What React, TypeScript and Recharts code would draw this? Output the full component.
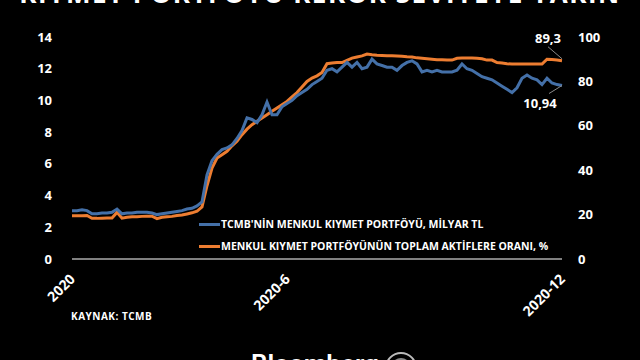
import React from 'react';
import { LineChart, Line, XAxis, YAxis } from 'recharts';

// TCMB securities portfolio (bn TL, left axis) and its share of total assets (%, right axis), 2020
const PORTFOLIO = [
  3.05, 3.05, 3.1, 3.05, 2.85, 2.85, 2.9, 2.9, 2.95, 3.15,
  2.85, 2.9, 2.9, 2.95, 2.95, 2.95, 2.9, 2.8, 2.85, 2.9,
  2.95, 3.0, 3.05, 3.15, 3.2, 3.35, 3.6, 5.3, 6.2, 6.6,
  6.9, 7.0, 7.2, 7.6, 8.1, 8.9, 8.8, 8.6, 9.1, 9.9,
  9.1, 9.1, 9.6, 9.8, 10.0, 10.3, 10.5, 10.7, 11.0, 11.2,
  11.4, 11.9, 12.0, 11.8, 12.1, 12.4, 12.1, 12.4, 12.0, 12.1,
  12.6, 12.3, 12.2, 12.1, 12.1, 11.9, 12.2, 12.4, 12.5, 12.3,
  11.8, 11.9, 11.8, 11.9, 11.8, 11.8, 11.8, 11.9, 12.3, 12.0,
  11.9, 11.7, 11.5, 11.4, 11.3, 11.1, 10.9, 10.7, 10.5, 10.8,
  11.4, 11.6, 11.4, 11.3, 11.0, 11.4, 11.1, 11.0, 10.94,
];

const SHARE = [
  19.5, 19.5, 19.5, 19.6, 18.3, 18.3, 18.4, 18.5, 18.5, 21.0,
  18.4, 18.8, 19.0, 19.0, 19.2, 19.3, 19.3, 18.2, 18.8, 19.0,
  19.2, 19.6, 19.8, 20.3, 20.8, 21.5, 23.5, 33, 41, 45.5,
  47, 48.5, 51, 53, 56, 58.5, 60.5, 62, 63.5, 65,
  66.5, 68, 69.5, 71, 73, 75, 77.5, 80, 81.5, 82.5,
  84, 88, 88.3, 88.5, 88.5, 89.5, 90.5, 91, 91.5, 92.3,
  92, 91.8, 91.7, 91.6, 91.5, 91.4, 91.3, 91.1, 91, 90.6,
  90.4, 90.2, 90.0, 89.8, 89.7, 89.6, 89.6, 90.4, 90.5, 90.5,
  90.5, 90.4, 90.2, 89.6, 89.6, 88.5, 88.3, 88.0, 87.8, 87.8,
  87.8, 87.8, 87.8, 87.8, 87.8, 90, 89.9, 89.6, 89.3,
];

const TICK_POS = [0, 43, 98];
const TICK_LABELS = ['2020', '2020-6', '2020-12'];
const LEFT_TICKS = [0, 2, 4, 6, 8, 10, 12, 14];
const RIGHT_TICKS = [0, 20, 40, 60, 80, 100];

const SERIES_NAMES = [
  "TCMB'NİN MENKUL KIYMET PORTFÖYÜ, MİLYAR TL",
  'MENKUL KIYMET PORTFÖYÜNÜN TOPLAM AKTİFLERE ORANI, %',
];

const BLUE = '#4470a8';
const ORANGE = '#ed7d31';
const FONT = '"Open Sans", "DejaVu Sans", sans-serif';

const data = PORTFOLIO.map((v, i) => ({ i, portfolio: v, share: SHARE[i] }));

const fmt = (v: number) => String(v).replace('.', ',');

const XTick = (props: any) => {
  const { x, y, payload } = props;
  const idx = TICK_POS.indexOf(payload.value);
  return (
    <text
      transform={`translate(${x + 4},${y + 13}) rotate(-45)`}
      textAnchor="end"
      fill="#fff"
      fontSize={14}
      fontWeight={700}
      fontFamily={FONT}
    >
      {idx >= 0 ? TICK_LABELS[idx] : ''}
    </text>
  );
};

const blueEnd = (props: any) => {
  const { x, y, index, value } = props;
  if (index !== PORTFOLIO.length - 1) return null;
  return (
    <g>
      <line x1={x} y1={y} x2={x - 13} y2={y + 8} stroke="#8a8a8a" strokeWidth={1} />
      <text x={x - 22} y={y + 22} textAnchor="middle" fill="#fff" fontSize={13} fontWeight={700} fontFamily={FONT}>
        {fmt(value)}
      </text>
    </g>
  );
};

const orangeEnd = (props: any) => {
  const { x, y, index, value } = props;
  if (index !== SHARE.length - 1) return null;
  return (
    <g>
      <line x1={x} y1={y - 2} x2={x - 14} y2={y - 14} stroke="#8a8a8a" strokeWidth={1} />
      <text x={x - 14} y={y - 18} textAnchor="middle" fill="#fff" fontSize={13} fontWeight={700} fontFamily={FONT}>
        {fmt(value)}
      </text>
    </g>
  );
};

export default function App() {
  return (
    <div
      style={{
        position: 'fixed',
        left: 0,
        top: 0,
        width: 640,
        height: 360,
        background: '#000',
        overflow: 'hidden',
        fontFamily: FONT,
      }}
    >
      {/* title, cut off at the top of the frame like the source image */}
      <div
        style={{
          position: 'absolute',
          top: -25,
          left: 0,
          width: 640,
          textAlign: 'center',
          color: '#fff',
          fontSize: 26,
          fontWeight: 700,
          letterSpacing: 1.5,
          whiteSpace: 'nowrap',
        }}
      >
        KIYMET PORTFÖYÜ REKOR SEVİYEYE YAKIN
      </div>

      <LineChart width={640} height={360} data={data} margin={{ top: 37, right: 0, bottom: 0, left: 0 }}>
        <XAxis
          dataKey="i"
          type="number"
          domain={[0, PORTFOLIO.length - 1]}
          ticks={TICK_POS}
          tick={<XTick />}
          tickLine={false}
          axisLine={{ stroke: '#808080', strokeWidth: 2 }}
          interval={0}
          height={101}
        />
        <YAxis
          yAxisId="l"
          domain={[0, 14]}
          ticks={LEFT_TICKS}
          interval={0}
          width={72}
          axisLine={false}
          tickLine={false}
          tickSize={0}
          tickMargin={20}
          tick={{ fill: '#fff', fontSize: 13, fontWeight: 700, fontFamily: FONT }}
        />
        <YAxis
          yAxisId="r"
          orientation="right"
          domain={[0, 100]}
          ticks={RIGHT_TICKS}
          interval={0}
          width={78}
          axisLine={false}
          tickLine={false}
          tickSize={0}
          tickMargin={16}
          tick={{ fill: '#fff', fontSize: 13, fontWeight: 700, fontFamily: FONT, textAnchor: 'start' }}
        />
        <Line
          yAxisId="r"
          dataKey="share"
          stroke={ORANGE}
          strokeWidth={3}
          dot={false}
          isAnimationActive={false}
          label={orangeEnd}
        />
        <Line
          yAxisId="l"
          dataKey="portfolio"
          stroke={BLUE}
          strokeWidth={3}
          dot={false}
          isAnimationActive={false}
          label={blueEnd}
        />
      </LineChart>

      {/* legend */}
      <div
        style={{
          position: 'absolute',
          left: 199,
          top: 213,
          fontSize: 10.5,
          fontWeight: 700,
          color: '#fff',
          whiteSpace: 'nowrap',
        }}
      >
        {SERIES_NAMES.map((name, k) => (
          <div key={name} style={{ display: 'flex', alignItems: 'center', height: 22 }}>
            <div style={{ width: 21, height: 3, background: k === 0 ? BLUE : ORANGE, marginRight: 1 }} />
            <span>{name}</span>
          </div>
        ))}
      </div>

      <div
        style={{
          position: 'absolute',
          left: 71,
          top: 309,
          color: '#fff',
          fontSize: 10,
          fontWeight: 700,
          letterSpacing: 0.5,
        }}
      >
        KAYNAK: TCMB
      </div>

      {/* logo, cut off at the bottom */}
      <div
        style={{
          position: 'absolute',
          left: 251,
          top: 349,
          color: '#fff',
          fontSize: 26,
          fontWeight: 600,
          fontFamily: 'Roboto, sans-serif',
        }}
      >
        Bloomberg
      </div>
      <div
        style={{
          position: 'absolute',
          left: 385,
          top: 352,
          width: 32,
          height: 32,
          borderRadius: '50%',
          border: '2px solid #bbb',
          boxSizing: 'border-box',
        }}
      />
      <div
        style={{
          position: 'absolute',
          left: 391,
          top: 358,
          width: 20,
          height: 20,
          borderRadius: '50%',
          border: '2px solid #888',
          boxSizing: 'border-box',
        }}
      />
    </div>
  );
}
